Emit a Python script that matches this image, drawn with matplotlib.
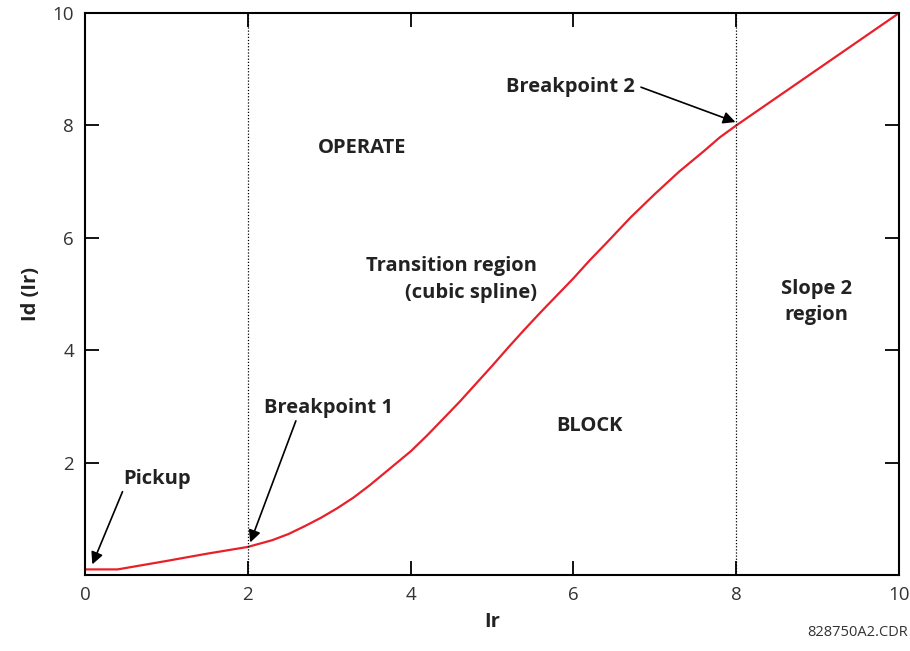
import matplotlib
matplotlib.use("Agg")
import matplotlib.pyplot as plt

# restraint current (Ir) vs differential current Id(Ir)
ir = [0.0, 0.4, 1.0, 1.5, 2.0, 2.3, 2.5, 2.7, 2.9, 3.1, 3.3, 3.5, 3.75, 4.0,
      4.2, 4.4, 4.6, 4.8, 5.0, 5.2, 5.4, 5.6, 5.8, 6.0, 6.2, 6.4, 6.7, 7.0,
      7.3, 7.6, 7.8, 8.0, 9.0, 10.0]
id_ir = [0.1, 0.1, 0.25, 0.38, 0.5, 0.62, 0.73, 0.87, 1.02, 1.19, 1.38, 1.6,
         1.9, 2.2, 2.48, 2.78, 3.08, 3.4, 3.72, 4.05, 4.37, 4.68, 4.98, 5.28,
         5.6, 5.9, 6.36, 6.78, 7.18, 7.54, 7.79, 8.0, 9.0, 10.0]

breakpoints = [2, 8]
ticks = [0, 2, 4, 6, 8, 10]
ytick_labels = ["", "2", "4", "6", "8", "10"]

plt.rcParams['font.family'] = ['Open Sans', 'DejaVu Sans']

fig = plt.figure(figsize=(9.1, 6.51), dpi=100)
ax = fig.add_axes([0.0934, 0.1167, 0.8946, 0.8633])

ax.plot(ir, id_ir, color='#e8202a', lw=1.6)
for b in breakpoints:
    ax.axvline(b, color='black', lw=0.9, linestyle=(0, (1, 1.5)))

ax.set_xlim(0, 10)
ax.set_ylim(0, 10)
ax.set_xticks(ticks)
ax.set_yticks(ticks)
ax.set_yticklabels(ytick_labels)
ax.tick_params(direction='in', length=10, width=1.3, top=True, right=True,
               labelsize=13.5, labelcolor='#333333', pad=8)
for s in ax.spines.values():
    s.set_linewidth(1.5)

ax.set_xlabel("Ir", fontsize=14.5, fontweight='bold', color='#222222', labelpad=6)
ax.set_ylabel("Id (Ir)", fontsize=14.5, fontweight='bold', color='#222222', labelpad=8)

lbl = dict(fontsize=14.5, fontweight='bold', color='#222222')
ax.text(3.40, 7.60, "OPERATE", ha='center', va='center', **lbl)
ax.text(5.55, 5.26, "Transition region\n(cubic spline)", ha='right', va='center',
        multialignment='right', linespacing=1.42, **lbl)
ax.text(8.98, 4.86, "Slope 2\nregion", ha='center', va='center',
        linespacing=1.42, **lbl)
ax.text(6.20, 2.65, "BLOCK", ha='center', va='center', **lbl)

arr = dict(arrowstyle='-|>', color='black', lw=1.2, mutation_scale=18,
           shrinkA=0, shrinkB=0)
ax.annotate("Breakpoint 1", xy=(2.03, 0.58), xytext=(2.99, 2.97),
            ha='center', va='center', arrowprops=dict(arr, relpos=(0.25, -0.1)), **lbl)
ax.annotate("Pickup", xy=(0.09, 0.19), xytext=(0.88, 1.71),
            ha='center', va='center', arrowprops=dict(arr, relpos=(0.0, -0.1)), **lbl)
ax.annotate("Breakpoint 2", xy=(7.99, 8.06), xytext=(5.96, 8.68),
            ha='center', va='center', arrowprops=dict(arr, relpos=(1.05, 0.5)), **lbl)

fig.text(0.998, 0.017, "828750A2.CDR", ha='right', va='bottom',
         fontsize=10.5, color='#333333')

fig.savefig("out.png", dpi=100)
